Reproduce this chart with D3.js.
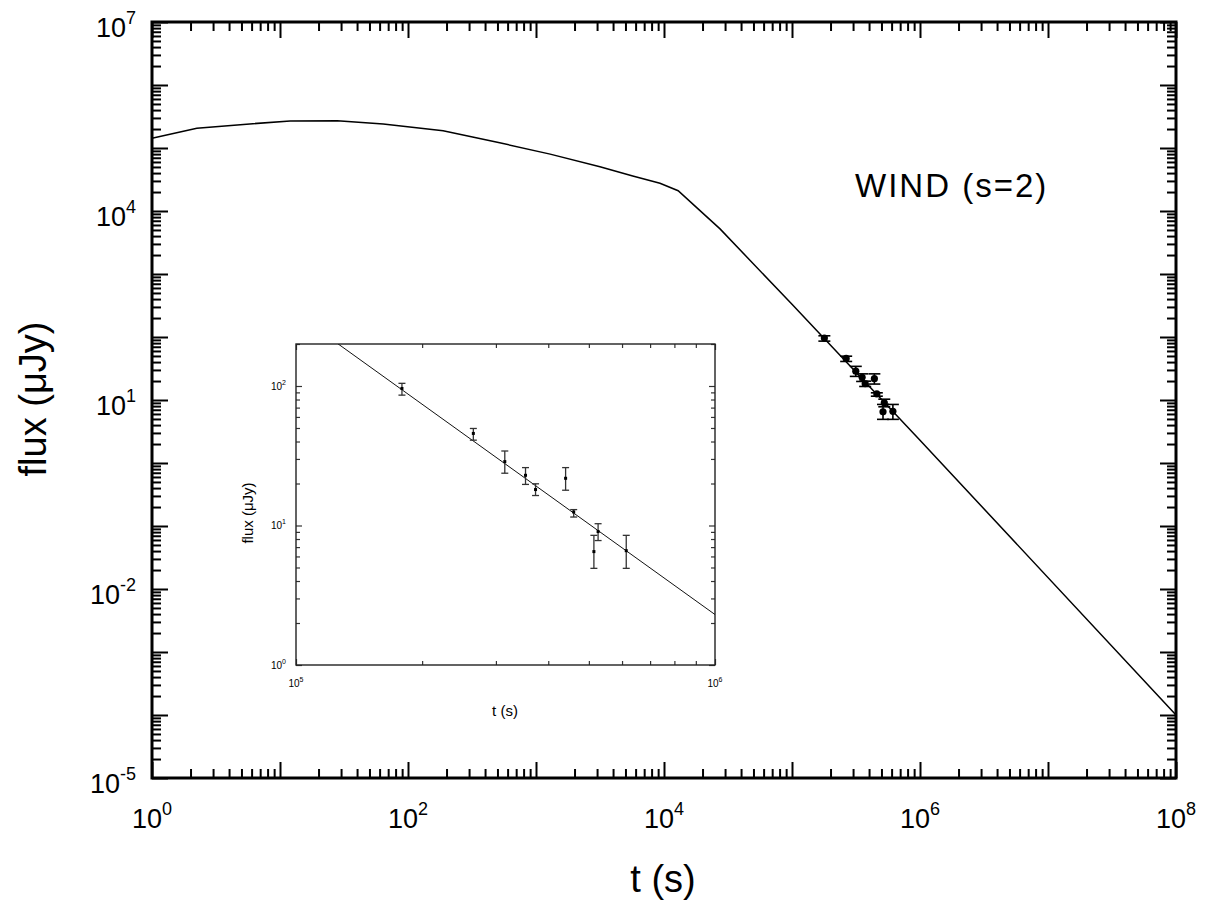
<!DOCTYPE html>
<html>
<head>
<meta charset="utf-8">
<script src="https://cdn.jsdelivr.net/npm/d3@7"></script>
<style>
  body { margin: 0; background: #fff; }
  svg text { font-family: "Liberation Sans", Arial, sans-serif; fill: #000; }
</style>
</head>
<body>
<svg id="chart" width="1206" height="905"></svg>
<script>
// model light curve (t in s, flux in uJy)
const modelT    = [1, 2.24, 5.8, 12, 28, 64, 188, 520, 1290, 3160, 5700, 9300, 12900, 18100, 27400, 1e5, 1e6, 1e8];
const modelFlux = [1.43e5, 2.06e5, 2.41e5, 2.68e5, 2.71e5, 2.41e5, 1.88e5, 1.21e5, 8.0e4, 5.05e4, 3.6e4, 2.75e4, 2.1e4, 1.12e4, 5.2e3, 330, 2.3, 1.0e-4];

// observed points with error bars
const obsT    = [1.79e5, 2.65e5, 3.15e5, 3.53e5, 3.73e5, 4.40e5, 4.60e5, 5.14e5, 5.26e5, 6.14e5];
const obsFlux = [96, 45.7, 28.7, 22.9, 18.1, 21.8, 12.5, 6.5, 9.05, 6.6];
const obsLo   = [86, 40.9, 23.7, 19.7, 16.4, 17.9, 11.5, 4.93, 7.8, 4.93];
const obsHi   = [104.5, 49.6, 34.2, 26, 19.9, 26, 13.0, 8.5, 10.3, 8.5];

// tick labels (exponents of 10)
const mainXExp = [0, 2, 4, 6, 8];
const mainYExp = [7, 4, 1, -2, -5];
const insetXExp = [5, 6];
const insetYExp = [0, 1, 2];

const svg = d3.select("#chart");

function decades(lo, hi) {
  const out = [];
  for (let e = lo; e <= hi; e++) out.push(Math.pow(10, e));
  return out;
}
function minors(lo, hi, max) {
  const out = [];
  for (let e = lo; e < hi; e++)
    for (let k = 2; k <= 9; k++) {
      const v = k * Math.pow(10, e);
      if (max === undefined || v <= max) out.push(v);
    }
  return out;
}

function drawTicks(g, axisFn, scale, values, size, translate, stroke, width) {
  const a = axisFn(scale).tickValues(values).tickSize(size).tickFormat("");
  const sel = g.append("g").attr("transform", translate).call(a);
  sel.select(".domain").remove();
  sel.selectAll("line").attr("stroke", stroke).attr("stroke-width", width);
}

// ---------- main plot ----------
const x = d3.scaleLog().domain([1, 1e8]).range([152, 1176]);
const y = d3.scaleLog().domain([1e-5, 1e7]).range([778, 22]);

const main = svg.append("g");
const xMaj = decades(0, 8), xMin = minors(0, 8);
const yMaj = decades(-5, 7), yMin = minors(-5, 7);

drawTicks(main, d3.axisBottom, x, xMaj, -16, "translate(0,778)", "#000", 2);
drawTicks(main, d3.axisBottom, x, xMin, -9, "translate(0,778)", "#000", 2);
drawTicks(main, d3.axisTop, x, xMaj, -16, "translate(0,22)", "#000", 2);
drawTicks(main, d3.axisTop, x, xMin, -9, "translate(0,22)", "#000", 2);
drawTicks(main, d3.axisLeft, y, yMaj, -16, "translate(152,0)", "#000", 2);
drawTicks(main, d3.axisLeft, y, yMin, -9, "translate(152,0)", "#000", 2);
drawTicks(main, d3.axisRight, y, yMaj, -16, "translate(1176,0)", "#000", 2);
drawTicks(main, d3.axisRight, y, yMin, -9, "translate(1176,0)", "#000", 2);

main.append("rect")
  .attr("x", 152).attr("y", 22).attr("width", 1024).attr("height", 756)
  .attr("fill", "none").attr("stroke", "#000").attr("stroke-width", 3);

// tick labels
mainXExp.forEach(e => {
  const t = main.append("text").attr("x", x(Math.pow(10, e))).attr("y", 828)
    .attr("text-anchor", "middle").attr("font-size", 27);
  t.append("tspan").text("10");
  t.append("tspan").attr("font-size", 18).attr("dy", -13).text(e);
});
mainYExp.forEach(e => {
  const t = main.append("text").attr("x", 136).attr("y", y(Math.pow(10, e)) + 15)
    .attr("text-anchor", "end").attr("font-size", 27);
  t.append("tspan").text("10");
  t.append("tspan").attr("font-size", 18).attr("dy", -13).text(e);
});

// axis titles
main.append("text").attr("x", 663).attr("y", 892).attr("text-anchor", "middle")
  .attr("font-size", 38).text("t (s)");
main.append("text").attr("transform", "translate(46,399) rotate(-90)")
  .attr("text-anchor", "middle").attr("font-size", 38).text("flux (\u03bcJy)");

main.append("text").attr("x", 855).attr("y", 197).attr("font-size", 33)
  .attr("letter-spacing", 2).text("WIND (s=2)");

// model curve
const model = modelT.map((t, i) => [t, modelFlux[i]]);
main.append("path").datum(model)
  .attr("fill", "none").attr("stroke", "#000").attr("stroke-width", 1.5)
  .attr("d", d3.line().x(d => x(d[0])).y(d => y(d[1])));

// data with error bars
const obs = obsT.map((t, i) => ({ t, f: obsFlux[i], lo: obsLo[i], hi: obsHi[i] }));
const mp = main.append("g").attr("stroke", "#000").attr("stroke-width", 1.6);
obs.forEach(d => {
  const cx = x(d.t);
  mp.append("line").attr("x1", cx).attr("x2", cx).attr("y1", y(d.lo)).attr("y2", y(d.hi));
  mp.append("line").attr("x1", cx - 6).attr("x2", cx + 6).attr("y1", y(d.lo)).attr("y2", y(d.lo));
  mp.append("line").attr("x1", cx - 6).attr("x2", cx + 6).attr("y1", y(d.hi)).attr("y2", y(d.hi));
});
main.append("g").selectAll("circle").data(obs).join("circle")
  .attr("cx", d => x(d.t)).attr("cy", d => y(d.f)).attr("r", 3.6).attr("fill", "#000");

// ---------- inset ----------
const ix = d3.scaleLog().domain([1e5, 1e6]).range([296, 715]);
const iy = d3.scaleLog().domain([1, 200]).range([665, 344]);
const inset = svg.append("g");
inset.append("rect").attr("x", 296).attr("y", 344).attr("width", 419).attr("height", 321)
  .attr("fill", "#fff");

const ixMaj = [1e5, 1e6], ixMin = minors(5, 6);
const iyMaj = decades(0, 2), iyMin = minors(0, 3, 200);
const ic = "#333";
drawTicks(inset, d3.axisBottom, ix, ixMaj, -6, "translate(0,665)", ic, 1.2);
drawTicks(inset, d3.axisBottom, ix, ixMin, -4, "translate(0,665)", ic, 1.2);
drawTicks(inset, d3.axisTop, ix, ixMaj, -6, "translate(0,344)", ic, 1.2);
drawTicks(inset, d3.axisTop, ix, ixMin, -4, "translate(0,344)", ic, 1.2);
drawTicks(inset, d3.axisLeft, iy, iyMaj, -6, "translate(296,0)", ic, 1.2);
drawTicks(inset, d3.axisLeft, iy, iyMin, -4, "translate(296,0)", ic, 1.2);
drawTicks(inset, d3.axisRight, iy, iyMaj, -6, "translate(715,0)", ic, 1.2);
drawTicks(inset, d3.axisRight, iy, iyMin, -4, "translate(715,0)", ic, 1.2);

inset.append("rect").attr("x", 296).attr("y", 344).attr("width", 419).attr("height", 321)
  .attr("fill", "none").attr("stroke", "#222").attr("stroke-width", 1.4);

insetXExp.forEach(e => {
  const t = inset.append("text").attr("x", ix(Math.pow(10, e))).attr("y", 687)
    .attr("text-anchor", "middle").attr("font-size", 10).attr("fill", "#222");
  t.append("tspan").text("10");
  t.append("tspan").attr("font-size", 7).attr("dy", -5).text(e);
});
insetYExp.forEach(e => {
  const t = inset.append("text").attr("x", 286).attr("y", iy(Math.pow(10, e)) + 4)
    .attr("text-anchor", "end").attr("font-size", 10).attr("fill", "#222");
  t.append("tspan").text("10");
  t.append("tspan").attr("font-size", 7).attr("dy", -5).text(e);
});
inset.append("text").attr("x", 505).attr("y", 716).attr("text-anchor", "middle")
  .attr("font-size", 15).text("t (s)");
inset.append("text").attr("transform", "translate(253,513) rotate(-90)")
  .attr("text-anchor", "middle").attr("font-size", 15).text("flux (\u03bcJy)");

const clip = svg.append("clipPath").attr("id", "insetClip");
clip.append("rect").attr("x", 296).attr("y", 344).attr("width", 419).attr("height", 321);
inset.append("path").datum(model).attr("clip-path", "url(#insetClip)")
  .attr("fill", "none").attr("stroke", "#111").attr("stroke-width", 1)
  .attr("d", d3.line().x(d => ix(d[0])).y(d => iy(d[1])));

const ip = inset.append("g").attr("stroke", "#333").attr("stroke-width", 1.3);
obs.forEach(d => {
  const cx = ix(d.t);
  ip.append("line").attr("x1", cx).attr("x2", cx).attr("y1", iy(d.lo)).attr("y2", iy(d.hi));
  ip.append("line").attr("x1", cx - 3.5).attr("x2", cx + 3.5).attr("y1", iy(d.lo)).attr("y2", iy(d.lo));
  ip.append("line").attr("x1", cx - 3.5).attr("x2", cx + 3.5).attr("y1", iy(d.hi)).attr("y2", iy(d.hi));
});
inset.append("g").selectAll("rect").data(obs).join("rect")
  .attr("x", d => ix(d.t) - 1.5).attr("y", d => iy(d.f) - 1.5)
  .attr("width", 3).attr("height", 3).attr("fill", "#000");
</script>
</body>
</html>
